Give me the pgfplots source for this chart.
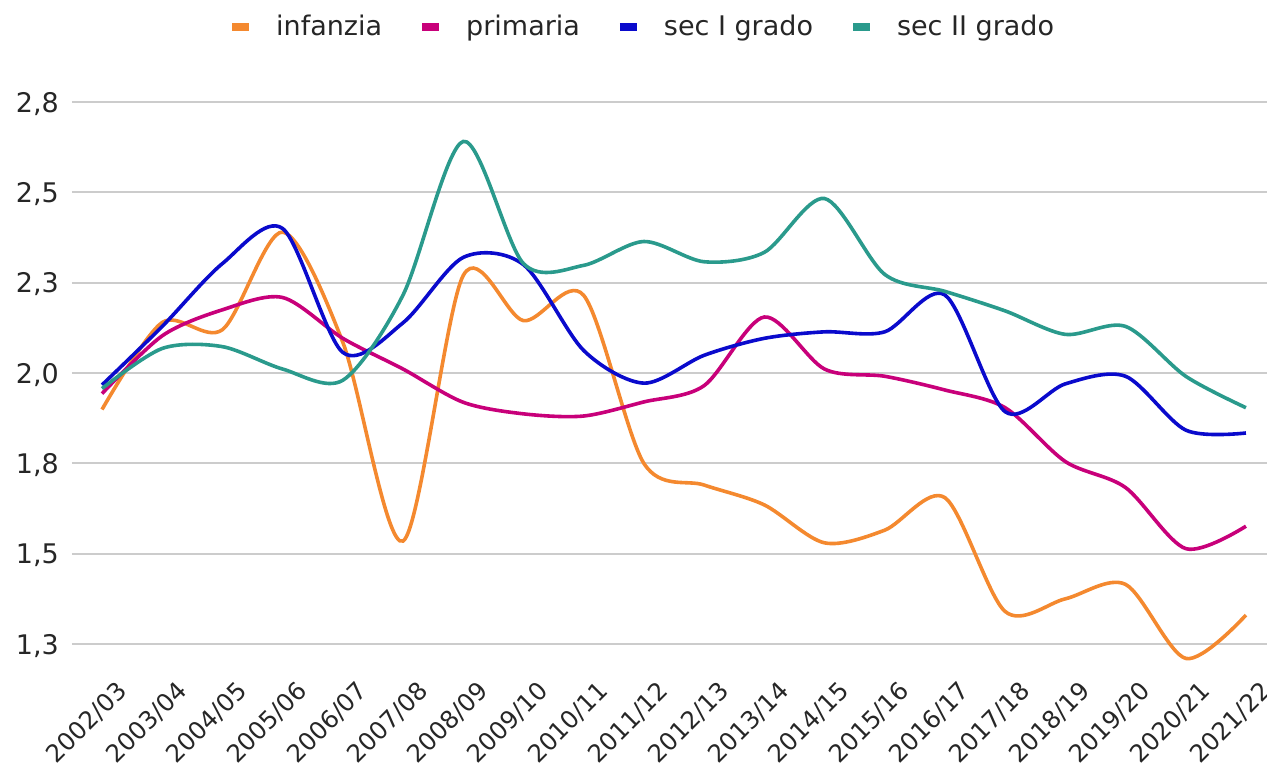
\documentclass[border=0pt]{standalone}
\usepackage{fontspec}
\setmainfont{DejaVu Sans}
\usepackage{pgfplots}
\pgfplotsset{compat=1.18}
\definecolor{cInf}{RGB}{244,137,47}
\definecolor{cPri}{RGB}{200,0,122}
\definecolor{cSec}{RGB}{10,10,204}
\definecolor{cSecII}{RGB}{42,154,140}
\begin{document}
\begin{tikzpicture}
\begin{axis}[
  at={(0,0)}, anchor=south west,
  scale only axis, width=597.5pt, height=289pt,
  xmin=-0.5, xmax=19.35, ymin=1.2, ymax=2.8,
  clip=false,
  axis line style={draw=none},
  major tick length=0pt,
  no markers,
  xtick={0,...,19},
  xticklabels={2002/03,2003/04,2004/05,2005/06,2006/07,2007/08,2008/09,2009/10,2010/11,2011/12,2012/13,2013/14,2014/15,2015/16,2016/17,2017/18,2018/19,2019/20,2020/21,2021/22},
  ytick={1.25,1.5,1.75,2,2.25,2.5,2.75},
  yticklabels={{1,3},{1,5},{1,8},{2,0},{2,3},{2,5},{2,8}},
  ymajorgrids,
  grid style={line width=1pt, color=black!20},
  tick label style={font=\fontsize{13.5}{16}\selectfont, text=black!85},
  xticklabel style={font=\fontsize{12.2}{14}\selectfont, rotate=45, anchor=east, xshift=2pt, yshift=-16pt},
  yticklabel style={anchor=east, text depth=0pt, xshift=-3pt},
  legend style={draw=none, fill=none, at={(0.478,1.0986)}, anchor=center,
    font=\fontsize{13.5}{16}\selectfont, text=black!85,
    /tikz/every odd column/.append style={column sep=9.5pt},
    /tikz/every even column/.append style={column sep=16pt}},
  legend columns=4,
  legend image code/.code={\draw[#1, line width=4pt, line cap=butt] (0pt,0pt) -- (8.5pt,0pt);},
  every axis plot/.append style={line width=1.8pt, smooth, tension=0.5},
]
\addplot[cInf] coordinates {
(0,1.899) (1,2.14) (2,2.12) (3,2.39) (4,2.085) (5,1.535) (6,2.27) (7,2.145) (8,2.215) (9,1.75)
(10,1.69) (11,1.635) (12,1.53) (13,1.565) (14,1.655) (15,1.34) (16,1.375) (17,1.415) (18,1.21) (19,1.33)};
\addlegendentry{infanzia}
\addplot[cPri] coordinates {
(0,1.943) (1,2.103) (2,2.175) (3,2.209) (4,2.096) (5,2.011) (6,1.919) (7,1.887) (8,1.881) (9,1.92)
(10,1.965) (11,2.155) (12,2.011) (13,1.991) (14,1.953) (15,1.904) (16,1.755) (17,1.683) (18,1.514) (19,1.576)};
\addlegendentry{primaria}
\addplot[cSec] coordinates {
(0,1.967) (1,2.129) (2,2.303) (3,2.40) (4,2.057) (5,2.139) (6,2.32) (7,2.30) (8,2.0625) (9,1.972)
(10,2.049) (11,2.096) (12,2.114) (13,2.114) (14,2.216) (15,1.893) (16,1.970) (17,1.991) (18,1.842) (19,1.834)};
\addlegendentry{sec I grado}
\addplot[cSecII] coordinates {
(0,1.957) (1,2.068) (2,2.073) (3,2.011) (4,1.98) (5,2.216) (6,2.641) (7,2.303) (8,2.298) (9,2.364)
(10,2.308) (11,2.334) (12,2.483) (13,2.273) (14,2.226) (15,2.172) (16,2.107) (17,2.129) (18,1.991) (19,1.904)};
\addlegendentry{sec II grado}
\end{axis}
\pgfresetboundingbox
\path[use as bounding box] (-35.95pt,-56pt) rectangle (597.5pt,331pt);
\end{tikzpicture}
\end{document}
